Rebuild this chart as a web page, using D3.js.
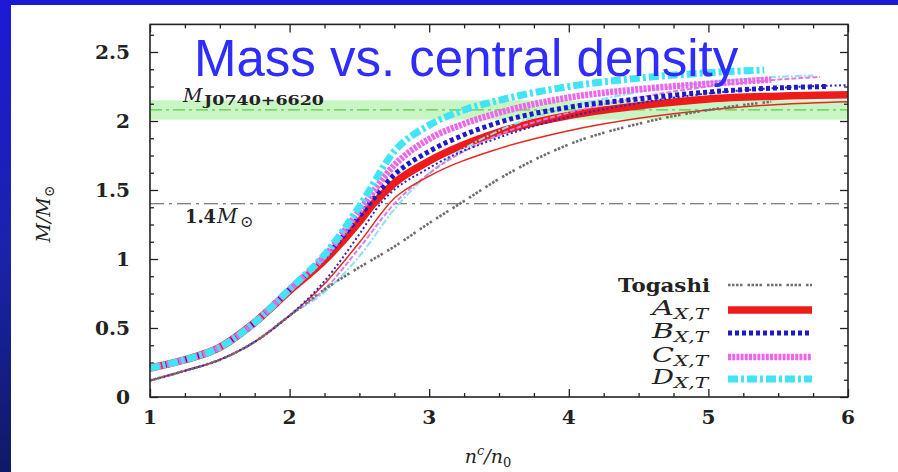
<!DOCTYPE html>
<html>
<head>
<meta charset="utf-8">
<script src="https://cdn.jsdelivr.net/npm/d3@7"></script>
<style>
  html, body { margin: 0; padding: 0; }
  body { width: 898px; height: 472px; overflow: hidden; }
  svg { display: block; }
</style>
</head>
<body>
<svg id="chart" width="898" height="472"></svg>
<script>
// ---- data: neutron-star mass (M/Msun) against central density n^c/n0 ----
const xTicks = [1, 2, 3, 4, 5, 6];
const yTicks = [0, 0.5, 1, 1.5, 2, 2.5];
const yTickLabels = ["0", "0.5", "1", "1.5", "2", "2.5"];

const togashi = [[1,0.12],[1.25,0.19],[1.5,0.27],[1.75,0.40],[2,0.59],[2.25,0.78],[2.5,0.94],[2.75,1.09],[3,1.26],[3.25,1.42],[3.5,1.58],[4,1.83],[4.5,1.98],[5,2.08],[5.45,2.14]];

const aThick = [[1,0.21],[1.25,0.27],[1.5,0.36],[1.75,0.54],[2,0.77],[2.25,0.99],[2.5,1.27],[2.6,1.40],[2.75,1.55],[3,1.71],[3.5,1.92],[4,2.04],[4.5,2.11],[5,2.16],[5.5,2.18],[6,2.19]];
const bThick = [[1,0.21],[1.25,0.27],[1.5,0.36],[1.75,0.54],[2,0.78],[2.25,1.01],[2.5,1.31],[2.75,1.61],[3,1.78],[3.25,1.90],[3.5,1.99],[4,2.10],[4.5,2.16],[5,2.21],[5.5,2.24],[5.85,2.25]];
const cThick = [[1,0.21],[1.25,0.27],[1.5,0.36],[1.75,0.54],[2,0.78],[2.25,1.02],[2.5,1.35],[2.75,1.68],[3,1.87],[3.25,1.98],[3.5,2.06],[4,2.17],[4.5,2.23],[5,2.27],[5.45,2.30]];
const dThick = [[1,0.21],[1.25,0.27],[1.5,0.36],[1.75,0.54],[2,0.78],[2.25,1.03],[2.5,1.38],[2.75,1.78],[3,1.97],[3.25,2.08],[3.5,2.15],[4,2.25],[4.5,2.31],[5,2.35],[5.4,2.37]];

const aThin = [[1,0.12],[1.25,0.19],[1.5,0.27],[1.75,0.40],[2,0.59],[2.25,0.82],[2.5,1.12],[2.75,1.44],[3,1.60],[3.5,1.80],[4,1.93],[4.5,2.02],[5,2.08],[5.5,2.12],[6,2.14]];
const bThin = [[1,0.12],[1.25,0.19],[1.5,0.27],[1.75,0.40],[2,0.59],[2.25,0.84],[2.5,1.18],[2.65,1.40],[3,1.66],[3.5,1.88],[4,2.03],[4.5,2.13],[5,2.20],[5.5,2.24],[6,2.26]];
const cThin = [[1,0.12],[1.25,0.19],[1.5,0.27],[1.75,0.40],[2,0.59],[2.25,0.78],[2.5,1.08],[2.75,1.40],[3,1.62],[3.5,1.90],[4,2.06],[4.5,2.17],[5,2.25],[5.5,2.30],[5.8,2.32]];
const dThin = [[1,0.12],[1.25,0.19],[1.5,0.27],[1.75,0.40],[2,0.59],[2.25,0.76],[2.5,1.02],[2.75,1.36],[3,1.62],[3.5,1.93],[4,2.10],[4.5,2.21],[5,2.28],[5.5,2.32],[5.75,2.33]];

// observational references
const j0740Mass = 2.08, j0740Err = 0.07;
const canonicalMass = 1.4;

const legendNames = ["Togashi", "A", "B", "C", "D"];

// ---- layout ----
const svg = d3.select("#chart");
const W = 898, H = 472;
const padL = 150, padR = 848, padT = 24.4, padB = 397;

// slide background: blue frame around a white panel
const defs = svg.append("defs");
const grad = defs.append("linearGradient").attr("id", "frameGrad")
  .attr("x1", 0).attr("y1", 0).attr("x2", 0).attr("y2", 1);
grad.append("stop").attr("offset", "0%").attr("stop-color", "#1c1ad6");
grad.append("stop").attr("offset", "55%").attr("stop-color", "#1a22a8");
grad.append("stop").attr("offset", "100%").attr("stop-color", "#0e1a66");
svg.append("rect").attr("width", W).attr("height", H).attr("fill", "url(#frameGrad)");
svg.append("rect").attr("x", 0).attr("y", 0).attr("width", W).attr("height", 5).attr("fill", "#1c1ad6");
svg.append("rect").attr("x", 11).attr("y", 5).attr("width", W - 11).attr("height", H - 5).attr("fill", "#ffffff");

const x = d3.scaleLinear().domain([1, 6]).range([padL, padR]);
const y = d3.scaleLinear().domain([0, 2.7]).range([padB, padT]);

const serif = "'DejaVu Serif', 'Liberation Serif', serif";
const ink = "#222";

// J0740+6620 band
svg.append("rect")
  .attr("x", x(1)).attr("width", x(6) - x(1))
  .attr("y", y(j0740Mass + j0740Err)).attr("height", y(j0740Mass - j0740Err) - y(j0740Mass + j0740Err))
  .attr("fill", "#b2f0aa").attr("opacity", 0.7);
svg.append("line")
  .attr("x1", x(1)).attr("x2", x(6)).attr("y1", y(j0740Mass)).attr("y2", y(j0740Mass))
  .attr("stroke", "#5ccc4a").attr("stroke-width", 1.2).attr("stroke-dasharray", "12,4,3,4");

// 1.4 Msun reference
svg.append("line")
  .attr("x1", x(1)).attr("x2", x(6)).attr("y1", y(canonicalMass)).attr("y2", y(canonicalMass))
  .attr("stroke", "#555").attr("stroke-width", 1.1).attr("stroke-dasharray", "14,5,3,5");

// axes with inward ticks on all four sides
const minorX = d3.range(1, 6.001, 0.25);
const minorY = d3.range(0, 2.7, 0.125);
function drawTicks(axisFn, scale, vals, len, transform) {
  svg.append("g").attr("transform", transform)
    .call(axisFn(scale).tickValues(vals).tickSize(-len).tickFormat(""))
    .call(g => g.select(".domain").remove())
    .call(g => g.selectAll("line").attr("stroke", ink).attr("stroke-width", 1.3));
}
const minorXv = minorX.filter(v => !xTicks.includes(v));
const minorYv = minorY.filter(v => !yTicks.includes(v));
drawTicks(d3.axisBottom, x, minorXv, 4, `translate(0,${padB})`);
drawTicks(d3.axisBottom, x, xTicks, 8, `translate(0,${padB})`);
drawTicks(d3.axisTop, x, minorXv, 4, `translate(0,${padT})`);
drawTicks(d3.axisTop, x, xTicks, 8, `translate(0,${padT})`);
drawTicks(d3.axisLeft, y, minorYv, 4, `translate(${padL},0)`);
drawTicks(d3.axisLeft, y, yTicks, 8, `translate(${padL},0)`);
drawTicks(d3.axisRight, y, minorYv, 4, `translate(${padR},0)`);
drawTicks(d3.axisRight, y, yTicks, 8, `translate(${padR},0)`);

// tick labels (the plot's typeface is set slightly wide)
const stretch = 1.12;
svg.append("g").selectAll("text").data(xTicks).join("text")
  .attr("transform", d => `translate(${x(d)},${padB + 27}) scale(${stretch},1)`)
  .attr("text-anchor", "middle").attr("font-family", serif).attr("font-weight", "bold")
  .attr("font-size", 18).attr("fill", ink).text(d => d);
svg.append("g").selectAll("text").data(yTicks).join("text")
  .attr("transform", d => `translate(${padL - 20},${y(d) + 6.5}) scale(${stretch},1)`)
  .attr("text-anchor", "end").attr("font-family", serif).attr("font-weight", "bold")
  .attr("font-size", 18).attr("fill", ink).text((d, i) => yTickLabels[i]);

// curves
const line = d3.line().x(d => x(d[0])).y(d => y(d[1])).curve(d3.curveMonotoneX);
const styles = {
  togashi: { color: "#6e6e6e", width: 2.6, dash: "2.5,1.5,2.5,1.5,2.5,1.5,2.5,5" },
  aThick: { color: "#ee1b1b", width: 7.5, dash: null },
  bThick: { color: "#1c1cc4", width: 5, dash: "4,3" },
  cThick: { color: "#f064f0", width: 6.5, dash: "3,1.2" },
  dThick: { color: "#40e4f4", width: 7, dash: "10,3,3,3" },
  aThin: { color: "#e42a20", width: 1.5, dash: null },
  bThin: { color: "#2424d0", width: 2, dash: "2,2.5" },
  cThin: { color: "#e27ae2", width: 2, dash: "5,2" },
  dThin: { color: "#86e4f2", width: 2, dash: "7,2,2,2" }
};
const series = [
  ["aThick", aThick], ["dThin", dThin], ["cThin", cThin], ["aThin", aThin], ["bThin", bThin],
  ["bThick", bThick], ["cThick", cThick], ["dThick", dThick], ["togashi", togashi]
];
const plot = svg.append("g");
series.forEach(([key, data]) => {
  const s = styles[key];
  plot.append("path").datum(data).attr("d", line)
    .attr("fill", "none").attr("stroke", s.color).attr("stroke-width", s.width)
    .attr("stroke-dasharray", s.dash).attr("stroke-linecap", "butt").attr("stroke-linejoin", "round");
});

// frame
svg.append("rect").attr("x", padL).attr("y", padT).attr("width", padR - padL).attr("height", padB - padT)
  .attr("fill", "none").attr("stroke", ink).attr("stroke-width", 1.6);

// reference labels
svg.append("text").attr("x", 183).attr("y", 102).attr("font-family", serif).attr("fill", ink)
  .attr("font-style", "italic").attr("font-size", 19).text("M");
svg.append("text").attr("x", 204).attr("y", 105).attr("font-family", serif).attr("fill", ink)
  .attr("font-weight", "bold").attr("font-size", 13)
  .attr("textLength", 120).attr("lengthAdjust", "spacingAndGlyphs").text("J0740+6620");
svg.append("text").attr("x", 185).attr("y", 223).attr("font-family", serif).attr("fill", ink)
  .attr("font-weight", "bold").attr("font-size", 18)
  .attr("textLength", 31).attr("lengthAdjust", "spacingAndGlyphs").text("1.4");
svg.append("text").attr("x", 217).attr("y", 223).attr("font-family", serif).attr("fill", ink)
  .attr("font-style", "italic").attr("font-size", 20).text("M");
svg.append("text").attr("x", 240).attr("y", 227).attr("font-family", serif).attr("fill", ink)
  .attr("font-size", 16).text("⊙");

// axis titles
const xt = svg.append("text").attr("x", 488).attr("y", 463).attr("text-anchor", "middle")
  .attr("font-family", serif).attr("font-size", 19).attr("fill", ink).attr("font-style", "italic");
xt.append("tspan").text("n");
xt.append("tspan").attr("font-size", 13).attr("dy", -8).text("c");
xt.append("tspan").attr("dy", 8).text("/n");
xt.append("tspan").attr("font-size", 13).attr("dy", 4).attr("font-style", "normal").text("0");
const yt = svg.append("text").attr("transform", "translate(50,214) rotate(-90)").attr("text-anchor", "middle")
  .attr("font-family", serif).attr("font-size", 19).attr("fill", ink).attr("font-style", "italic");
yt.append("tspan").text("M/M");
yt.append("tspan").attr("font-size", 14).attr("dy", 4).attr("font-style", "normal").text("⊙");

// legend
const legendKeys = ["togashi", "aThick", "bThick", "cThick", "dThick"];
const legendY = [285, 310, 333, 357, 379];
legendKeys.forEach((k, i) => {
  const s = styles[k];
  svg.append("line").attr("x1", 728).attr("x2", 812).attr("y1", legendY[i]).attr("y2", legendY[i])
    .attr("stroke", s.color).attr("stroke-width", s.width).attr("stroke-dasharray", s.dash);
  if (i === 0) {
    svg.append("text").attr("x", 618).attr("y", legendY[i] + 7).attr("font-family", serif).attr("fill", ink)
      .attr("font-weight", "bold").attr("font-size", 19)
      .attr("textLength", 92).attr("lengthAdjust", "spacingAndGlyphs").text(legendNames[i]);
  } else {
    svg.append("text").attr("x", 652).attr("y", legendY[i] + 5).attr("font-family", serif).attr("fill", ink)
      .attr("font-style", "italic").attr("font-size", 20)
      .attr("textLength", 22).attr("lengthAdjust", "spacingAndGlyphs").text(legendNames[i]);
    svg.append("text").attr("x", 674).attr("y", legendY[i] + 9).attr("font-family", serif).attr("fill", ink)
      .attr("font-style", "italic").attr("font-size", 14)
      .attr("textLength", 34).attr("lengthAdjust", "spacingAndGlyphs").text("X,T");
  }
});

// slide heading
svg.append("text").attr("x", 194).attr("y", 76)
  .attr("font-family", "'Liberation Sans', Arial, sans-serif").attr("font-size", 51)
  .attr("fill", "#2f2cff").text("Mass vs. central density");
</script>
</body>
</html>
